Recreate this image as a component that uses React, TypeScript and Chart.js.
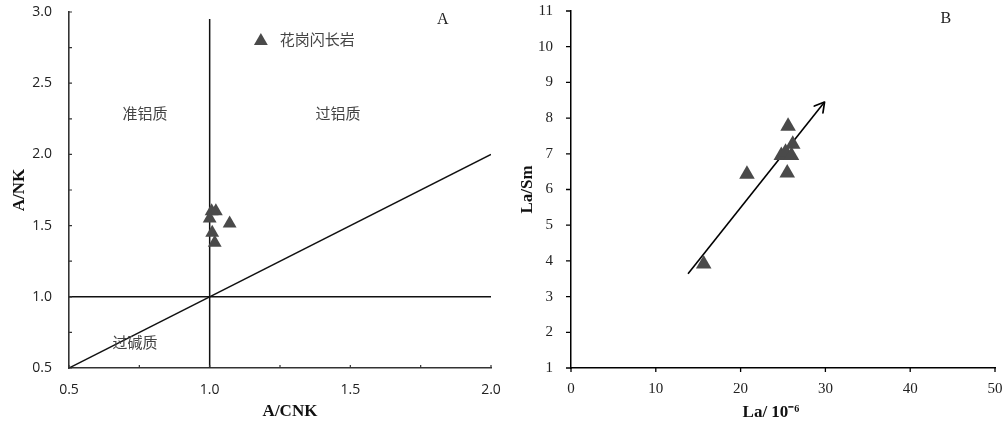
import React, { useEffect, useRef } from 'react';
import { Chart, registerables } from 'chart.js';

Chart.register(...registerables);

// ---- Panel A data ----
const acnkValues = [1.007, 1.022, 1.0, 1.071, 1.009, 1.018];
const ankValues = [1.6, 1.6, 1.55, 1.515, 1.45, 1.38];
const verticalLineX = [1.0, 1.0];
const verticalLineY = [0.5, 2.95];
const horizontalLineX = [0.5, 2.0];
const horizontalLineY = [1.0, 1.0];
const diagonalLineX = [0.5, 2.0];
const diagonalLineY = [0.5, 2.0];
const panelATickLabels = ['0.5', '1.0', '1.5', '2.0', '2.5', '3.0'];
const regionNames = ['准铝质', '过铝质', '过碱质'];
const regionAnchorX = [0.77, 1.456, 0.735];
const regionAnchorY = [2.29, 2.29, 0.683];
const legendName = '花岗闪长岩';
const legendAnchorX = 1.182;
const legendAnchorY = 2.81;
const panelATag = 'A';
const panelATagX = 1.829;
const panelATagY = 2.944;
const panelAXTitle = 'A/CNK';
const panelAYTitle = 'A/NK';

// ---- Panel B data ----
const laValues = [15.65, 20.75, 25.6, 26.15, 24.8, 25.3, 26.0, 25.5];
const laSmValues = [3.91, 6.43, 7.77, 7.27, 6.95, 7.04, 6.95, 6.46];
const trendX = [13.8, 29.9];
const trendY = [3.64, 8.45];
const panelBXTickLabels = ['0', '10', '20', '30', '40', '50'];
const panelBYTickLabels = ['1', '2', '3', '4', '5', '6', '7', '8', '9', '10', '11'];
const panelBTag = 'B';
const panelBTagX = 44.2;
const panelBTagY = 10.78;
const panelBXTitle = 'La/ 10⁻⁶';
const panelBYTitle = 'La/Sm';

const W = 1004;
const H = 425;
const MARK = '#4a4a4a';

function pts(xs: number[], ys: number[]) {
  return xs.map((x, i) => ({ x, y: ys[i] }));
}

function labelFromList(list: string[]) {
  return (v: any) => {
    const s = list.find((l) => Math.abs(parseFloat(l) - Number(v)) < 1e-6);
    return s === undefined ? '' : s;
  };
}

// Nudge layout padding until the plot area sits where wanted.
function fitArea(chart: any, target: { left: number; top: number; right: number; bottom: number }) {
  const pad = { ...(chart.config.options.layout.padding as any) };
  for (let i = 0; i < 4; i++) {
    const ca = chart.chartArea;
    const dl = target.left - ca.left;
    const dt = target.top - ca.top;
    const dr = ca.right - target.right;
    const db = ca.bottom - target.bottom;
    if (Math.abs(dl) < 0.1 && Math.abs(dt) < 0.1 && Math.abs(dr) < 0.1 && Math.abs(db) < 0.1) break;
    pad.left = Math.max(0, pad.left + dl);
    pad.top = Math.max(0, pad.top + dt);
    pad.right = Math.max(0, pad.right + dr);
    pad.bottom = Math.max(0, pad.bottom + db);
    chart.config.options.layout.padding = { ...pad };
    chart.update('none');
  }
}

const panelAPlugin = {
  id: 'panelADecor',
  afterDraw(chart: any) {
    const { ctx, chartArea: ca } = chart;
    const xs = chart.scales.x;
    const ys = chart.scales.y;
    ctx.save();
    // inward tick marks
    ctx.strokeStyle = '#333';
    ctx.lineWidth = 1.2;
    ctx.beginPath();
    xs.ticks.forEach((t: any) => {
      const px = xs.getPixelForValue(t.value);
      ctx.moveTo(px, ca.bottom);
      ctx.lineTo(px, ca.bottom - 3);
    });
    ys.ticks.forEach((t: any) => {
      const py = ys.getPixelForValue(t.value);
      ctx.moveTo(ca.left, py);
      ctx.lineTo(ca.left + 3, py);
    });
    ctx.stroke();

    // region labels
    ctx.fillStyle = '#444';
    ctx.font = '15px "Noto Sans CJK SC"';
    ctx.textAlign = 'center';
    ctx.textBaseline = 'middle';
    regionNames.forEach((n, i) => {
      ctx.fillText(n, xs.getPixelForValue(regionAnchorX[i]), ys.getPixelForValue(regionAnchorY[i]));
    });

    // legend
    const lx = xs.getPixelForValue(legendAnchorX);
    const ly = ys.getPixelForValue(legendAnchorY) + 2;
    const r = 8;
    ctx.fillStyle = MARK;
    ctx.beginPath();
    ctx.moveTo(lx, ly - r);
    ctx.lineTo(lx + r * Math.sin(Math.PI / 3), ly + r / 2);
    ctx.lineTo(lx - r * Math.sin(Math.PI / 3), ly + r / 2);
    ctx.closePath();
    ctx.fill();
    ctx.fillStyle = '#444';
    ctx.textAlign = 'left';
    ctx.fillText(legendName, lx + 19, ly - 2);

    // panel tag
    ctx.fillStyle = '#222';
    ctx.font = '16px "Liberation Serif"';
    ctx.textAlign = 'center';
    ctx.fillText(panelATag, xs.getPixelForValue(panelATagX), ys.getPixelForValue(panelATagY));

    // x title
    ctx.fillStyle = '#111';
    ctx.font = 'bold 17px "Liberation Serif"';
    ctx.fillText(panelAXTitle, (ca.left + ca.right) / 2 + 10, 412);
    ctx.restore();
  },
};

const panelBPlugin = {
  id: 'panelBDecor',
  afterDraw(chart: any) {
    const { ctx, chartArea: ca } = chart;
    const xs = chart.scales.x;
    const ys = chart.scales.y;
    ctx.save();
    // outward tick marks
    ctx.strokeStyle = '#000';
    ctx.lineWidth = 1.3;
    ctx.beginPath();
    xs.ticks.forEach((t: any) => {
      const px = xs.getPixelForValue(t.value);
      ctx.moveTo(px, ca.bottom);
      ctx.lineTo(px, ca.bottom + 4);
    });
    ys.ticks.forEach((t: any) => {
      const py = ys.getPixelForValue(t.value);
      ctx.moveTo(ca.left, py);
      ctx.lineTo(ca.left - 5, py);
    });
    ctx.stroke();

    // arrow head
    const x0 = xs.getPixelForValue(trendX[0]);
    const y0 = ys.getPixelForValue(trendY[0]);
    const x1 = xs.getPixelForValue(trendX[1]);
    const y1 = ys.getPixelForValue(trendY[1]);
    const ang = Math.atan2(y1 - y0, x1 - x0);
    const len = 11;
    const spread = Math.PI / 6;
    ctx.lineWidth = 1.7;
    ctx.lineCap = 'round';
    ctx.lineJoin = 'round';
    ctx.beginPath();
    ctx.moveTo(x1 - len * Math.cos(ang - spread), y1 - len * Math.sin(ang - spread));
    ctx.lineTo(x1, y1);
    ctx.lineTo(x1 - len * Math.cos(ang + spread), y1 - len * Math.sin(ang + spread));
    ctx.stroke();

    // panel tag
    ctx.fillStyle = '#222';
    ctx.font = '16px "Liberation Serif"';
    ctx.textAlign = 'center';
    ctx.textBaseline = 'middle';
    ctx.fillText(panelBTag, xs.getPixelForValue(panelBTagX), ys.getPixelForValue(panelBTagY));

    // x title
    ctx.fillStyle = '#111';
    ctx.font = 'bold 17px "Liberation Serif"';
    ctx.fillText(panelBXTitle, (ca.left + ca.right) / 2 - 12, 412.5);
    ctx.restore();
  },
};

function makePanelA(canvas: HTMLCanvasElement) {
  const tickFont = { family: '"Open Sans", "Liberation Sans", sans-serif', size: 14 };
  const chart = new Chart(canvas, {
    type: 'scatter',
    data: {
      datasets: [
        {
          label: legendName,
          data: pts(acnkValues, ankValues),
          pointStyle: 'triangle',
          pointRadius: 8,
          pointBackgroundColor: MARK,
          pointBorderColor: MARK,
          pointBorderWidth: 0,
        },
        {
          data: pts(verticalLineX, verticalLineY),
          showLine: true,
          pointRadius: 0,
          borderColor: '#111',
          borderWidth: 1.5,
        },
        {
          data: pts(horizontalLineX, horizontalLineY),
          showLine: true,
          pointRadius: 0,
          borderColor: '#111',
          borderWidth: 1.5,
        },
        {
          data: pts(diagonalLineX, diagonalLineY),
          showLine: true,
          pointRadius: 0,
          borderColor: '#111',
          borderWidth: 1.5,
        },
      ],
    },
    options: {
      responsive: false,
      animation: false,
      devicePixelRatio: 1,
      layout: { padding: { left: 0, top: 12, right: W - 491, bottom: 0 } },
      plugins: { legend: { display: false }, tooltip: { enabled: false } },
      scales: {
        x: {
          type: 'linear',
          min: 0.5,
          max: 2.0,
          ticks: {
            stepSize: 0.25,
            autoSkip: false,
            maxRotation: 0,
            padding: 0,
            color: '#222',
            font: tickFont,
            callback: labelFromList(panelATickLabels),
          },
          grid: { display: false, drawTicks: true, tickLength: 14 },
          border: { display: true, color: '#333', width: 1.6 },
          afterFit: (s: any) => {
            s.height = 57;
          },
        },
        y: {
          type: 'linear',
          min: 0.5,
          max: 3.0,
          ticks: {
            stepSize: 0.25,
            autoSkip: false,
            padding: 0,
            color: '#222',
            font: tickFont,
            callback: labelFromList(panelATickLabels),
          },
          grid: { display: false, drawTicks: true, tickLength: 17 },
          border: { display: true, color: '#333', width: 1.6 },
          title: {
            display: true,
            text: panelAYTitle,
            color: '#111',
            font: { family: '"Liberation Serif"', size: 17, weight: 'bold' },
            padding: { top: 9, bottom: 0 },
          },
          afterFit: (s: any) => {
            s.width = 69;
          },
        },
      },
    } as any,
    plugins: [panelAPlugin],
  });
  fitArea(chart, { left: 69, top: 12, right: 491, bottom: 368 });
  return chart;
}

function makePanelB(canvas: HTMLCanvasElement) {
  const tickFont = { family: '"Liberation Serif", serif', size: 15 };
  const chart = new Chart(canvas, {
    type: 'scatter',
    data: {
      datasets: [
        {
          data: pts(laValues, laSmValues),
          pointStyle: 'triangle',
          pointRadius: 9,
          pointBackgroundColor: MARK,
          pointBorderColor: MARK,
          pointBorderWidth: 0,
        },
        {
          data: pts(trendX, trendY),
          showLine: true,
          pointRadius: 0,
          borderColor: '#000',
          borderWidth: 1.6,
        },
      ],
    },
    options: {
      responsive: false,
      animation: false,
      devicePixelRatio: 1,
      layout: { padding: { left: 500, top: 11, right: 8, bottom: 0 } },
      plugins: { legend: { display: false }, tooltip: { enabled: false } },
      scales: {
        x: {
          type: 'linear',
          min: 0,
          max: 50,
          ticks: {
            stepSize: 10,
            autoSkip: false,
            maxRotation: 0,
            padding: 0,
            color: '#222',
            font: tickFont,
            callback: labelFromList(panelBXTickLabels),
          },
          grid: { display: false, drawTicks: true, tickLength: 12 },
          border: { display: true, color: '#000', width: 1.5 },
          afterFit: (s: any) => {
            s.height = 57;
          },
        },
        y: {
          type: 'linear',
          min: 1,
          max: 11,
          ticks: {
            stepSize: 1,
            autoSkip: false,
            padding: 0,
            color: '#222',
            font: tickFont,
            callback: labelFromList(panelBYTickLabels),
          },
          grid: { display: false, drawTicks: true, tickLength: 18 },
          border: { display: true, color: '#000', width: 1.5 },
          title: {
            display: true,
            text: panelBYTitle,
            color: '#111',
            font: { family: '"Liberation Serif"', size: 17, weight: 'bold' },
            padding: { top: 17, bottom: 0 },
          },
          afterFit: (s: any) => {
            s.width = 71;
          },
        },
      },
    } as any,
    plugins: [panelBPlugin],
  });
  fitArea(chart, { left: 571, top: 11, right: 996, bottom: 368 });
  return chart;
}

export default function App() {
  const refA = useRef<HTMLCanvasElement | null>(null);
  const refB = useRef<HTMLCanvasElement | null>(null);

  useEffect(() => {
    if (!refA.current || !refB.current) return;
    const a = makePanelA(refA.current);
    const b = makePanelB(refB.current);
    return () => {
      a.destroy();
      b.destroy();
    };
  }, []);

  const canvasStyle: React.CSSProperties = {
    position: 'absolute',
    left: 0,
    top: 0,
    width: W,
    height: H,
  };

  return (
    <div
      style={{
        position: 'fixed',
        left: 0,
        top: 0,
        width: W,
        height: H,
        background: '#fff',
        overflow: 'hidden',
      }}
    >
      <canvas ref={refA} width={W} height={H} style={canvasStyle} />
      <canvas ref={refB} width={W} height={H} style={canvasStyle} />
    </div>
  );
}
